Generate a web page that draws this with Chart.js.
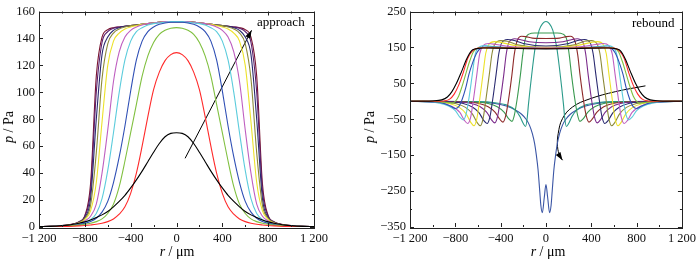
<!DOCTYPE html>
<html>
<head>
<meta charset="utf-8">
<script src="https://cdn.jsdelivr.net/npm/chart.js@4.4.0/dist/chart.umd.min.js"></script>
<style>
  body { margin: 0; background: #fff; }
  #wrap { position: relative; width: 700px; height: 260px; font-family: "Liberation Serif", serif; color: #000; }
  #approachChart { position: absolute; left: 0; top: 0; }
  #reboundChart { position: absolute; left: 350px; top: 0; }
  .lbl { position: absolute; font-size: 13px; line-height: 1; white-space: nowrap; }
  .ax { font-size: 14px; }
  .rot { transform: translate(-50%, -50%) rotate(-90deg); }
  .ctr { transform: translate(-50%, -50%); }
</style>
</head>
<body>
<div id="wrap">
  <canvas id="approachChart" width="340" height="260"></canvas>
  <canvas id="reboundChart" width="350" height="260"></canvas>
  <div class="lbl ax rot" style="left:9px; top:127px;"><i>p</i> / Pa</div>
  <div class="lbl ax ctr" style="left:177px; top:252px;"><i>r</i> / μm</div>
  <div class="lbl ax rot" style="left:370px; top:127px;"><i>p</i> / Pa</div>
  <div class="lbl ax ctr" style="left:548px; top:252px;"><i>r</i> / μm</div>
  <div class="lbl" style="left:257px; top:15px;">approach</div>
  <div class="lbl" style="left:632px; top:16px;">rebound</div>
</div>
<script>
// approach: half profiles p(r) for r >= 0, mirrored to r < 0
const r_grid = [0, 50, 100, 150, 200, 250, 300, 350, 400, 450, 500, 550, 600, 650, 700, 750, 800, 850, 900, 950, 1000, 1100, 1200];

const ap_black   = [70, 69.5, 67, 62, 55.5, 48.5, 41.5, 35, 29, 23.5, 19, 15, 11.5, 9, 7, 5.2, 3.8, 2.8, 2, 1.4, 1, 0.5, 0.3];
const ap_red     = [129.5, 128, 123.5, 115, 102, 82, 60, 40, 25, 15, 9.5, 6, 4, 2.8, 2, 1.5, 1.1, 0.8, 0.6, 0.45, 0.35, 0.2, 0.1];
const ap_green   = [148, 147.5, 146, 143, 137, 127, 112, 91, 70, 49, 30, 17, 10, 6, 4, 2.8, 2, 1.4, 1, 0.7, 0.5, 0.3, 0.15];
const ap_blue    = [152, 152, 151.5, 150.5, 148.5, 145, 138, 124, 101, 75, 52, 33, 19, 11, 6.5, 4, 2.7, 1.8, 1.2, 0.8, 0.6, 0.3, 0.15];
const ap_cyan    = [152.5, 152.5, 152, 151.5, 151, 150, 148, 145, 138, 124, 100, 70, 42, 21, 10, 5.5, 3.3, 2.1, 1.4, 1, 0.7, 0.35, 0.2];
const ap_magenta = [152.5, 152.5, 152.5, 152, 151.5, 151, 150, 148.5, 146, 141, 130, 108, 72, 40, 17, 8, 4.5, 2.7, 1.7, 1.1, 0.8, 0.4, 0.2];
const ap_yellow  = [152.5, 152.5, 152.5, 152, 151.5, 151, 150.5, 149.5, 148.5, 147, 144, 138, 120, 78, 33, 12, 5.5, 3, 1.8, 1.2, 0.8, 0.4, 0.2];
const ap_olive   = [152.5, 152.5, 152.5, 152, 151.5, 151, 150.5, 150, 149.5, 148.5, 147, 144, 136, 110, 55, 16, 6.5, 3.3, 2, 1.3, 0.9, 0.45, 0.25];
const ap_navy    = [152.5, 152.5, 152.5, 152, 151.5, 151, 150.5, 150, 149.5, 149, 148, 146, 141, 128, 80, 21, 7, 3.5, 2, 1.3, 0.9, 0.45, 0.25];
const ap_purple  = [152.5, 152.5, 152.5, 152, 151.5, 151, 150.5, 150, 149.5, 149, 148.5, 147.5, 145, 137, 100, 27, 8, 3.8, 2.2, 1.4, 1, 0.5, 0.3];
const ap_maroon  = [152.5, 152.5, 152.5, 152, 151.5, 151, 150.5, 150, 149.5, 149, 148.5, 148, 146.5, 141, 112, 32, 8.5, 4, 2.3, 1.5, 1, 0.5, 0.3];

const ap_series = [ap_black, ap_red, ap_green, ap_blue, ap_cyan, ap_magenta, ap_yellow, ap_olive, ap_navy, ap_purple, ap_maroon];
const ap_colors = ['#000000', '#ff2a2a', '#80c040', '#2f4fb5', '#5cccdc', '#bf5fc0', '#ece22a', '#8c8a3a', '#2a2a70', '#5a1f6e', '#7a1430'];

// approach arrow (r, p)
const ap_arrow_r = [75, 655];
const ap_arrow_p = [51, 146];

// rebound: each curve has its own r points (r >= 0)
const rb_black_r   = [0, 400, 550, 620, 660, 700, 746, 790, 830, 870, 920, 1000, 1100, 1200];
const rb_black_p   = [146, 148, 148.5, 146, 140, 118, 82, 50, 27, 12, 4, 1, 0.2, 0];
const rb_red_r     = [0, 500, 600, 650, 690, 730, 770, 810, 850, 900, 950, 1200];
const rb_red_p     = [147, 149, 148, 140, 120, 80, 45, 20, 6, 1, 0, 0];
const rb_green_r   = [0, 500, 590, 640, 675, 709, 740, 770, 800, 830, 870, 930, 1000, 1200];
const rb_green_p   = [147, 150, 149, 138, 110, 75, 42, 15, 0, -5, -4, -1.5, -0.3, 0];
const rb_blue_r    = [0, 480, 560, 610, 650, 680, 710, 740, 770, 800, 840, 900, 980, 1200];
const rb_blue_p    = [147, 151, 150, 135, 105, 75, 35, 5, -15, -20, -14, -6, -2, 0];
const rb_cyan_r    = [0, 300, 450, 540, 595, 625, 650, 680, 705, 730, 760, 800, 860, 940, 1050, 1200];
const rb_cyan_p    = [147, 149, 152, 155, 150, 130, 75, 8, -36, -52, -44, -26, -13, -5, -1.5, 0];
const rb_magenta_r = [0, 300, 440, 505, 555, 585, 610, 640, 665, 690, 720, 760, 820, 900, 1000, 1200];
const rb_magenta_p = [148, 152, 158, 161, 155, 132, 75, 5, -45, -62, -53, -31, -16, -6, -2, 0];
const rb_yellow_r  = [0, 250, 400, 455, 505, 532, 556, 585, 610, 635, 665, 705, 765, 845, 950, 1200];
const rb_yellow_p  = [149, 154, 164, 166, 158, 133, 75, 5, -48, -68, -58, -35, -17, -7, -2, 0];
const rb_olive_r   = [0, 250, 340, 400, 450, 476, 500, 530, 555, 580, 610, 650, 710, 790, 900, 1200];
const rb_olive_p   = [150, 157, 167, 169, 160, 133, 75, 5, -48, -68, -58, -35, -17, -7, -2, 0];
const rb_navy_r    = [0, 200, 290, 340, 390, 416, 440, 470, 495, 520, 550, 590, 650, 730, 840, 1200];
const rb_navy_p    = [154, 161, 170, 172, 163, 133, 75, 5, -44, -62, -53, -32, -16, -6, -2, 0];
const rb_purple_r  = [0, 150, 230, 275, 325, 350, 372, 402, 427, 452, 482, 522, 580, 660, 780, 1200];
const rb_purple_p  = [163, 166, 172, 174, 165, 133, 75, 5, -42, -60, -51, -31, -15, -6, -2, 0];
const rb_wine_r    = [0, 120, 180, 215, 255, 280, 300, 330, 355, 380, 410, 450, 510, 590, 710, 1200];
const rb_wine_p    = [175, 176, 180, 181, 168, 130, 75, 5, -40, -58, -49, -30, -15, -6, -2, 0];
const rb_dgreen_r  = [0, 100, 150, 185, 205, 225, 255, 280, 300, 330, 370, 430, 510, 640, 1200];
const rb_dgreen_p  = [190, 190, 187, 170, 130, 75, 5, -40, -56, -48, -30, -15, -6, -2, 0];
const rb_teal_r    = [0, 30, 60, 95, 120, 140, 155, 165, 180, 200, 230, 280, 350, 450, 600, 1200];
const rb_teal_p    = [222, 216, 198, 150, 90, 35, -10, -45, -70, -62, -42, -22, -10, -4, -1, 0];
const rb_last_r    = [0, 15, 32, 45, 55, 70, 85, 100, 120, 145, 175, 215, 270, 350, 450, 560, 700, 1200];
const rb_last_p    = [-232, -268, -310, -290, -250, -190, -150, -118, -90, -67, -50, -36, -24, -13, -6, -2.5, -0.8, 0];

const rb_series = [
  [rb_black_r, rb_black_p], [rb_red_r, rb_red_p], [rb_green_r, rb_green_p], [rb_blue_r, rb_blue_p],
  [rb_cyan_r, rb_cyan_p], [rb_magenta_r, rb_magenta_p], [rb_yellow_r, rb_yellow_p], [rb_olive_r, rb_olive_p],
  [rb_navy_r, rb_navy_p], [rb_purple_r, rb_purple_p], [rb_wine_r, rb_wine_p], [rb_dgreen_r, rb_dgreen_p],
  [rb_teal_r, rb_teal_p], [rb_last_r, rb_last_p]
];
const rb_colors = ['#000000', '#ff2a2a', '#80c040', '#2f4fb5', '#5cccdc', '#bf5fc0', '#ece22a', '#8c8a3a',
                   '#2a2a70', '#7a2a8a', '#8e2a2a', '#3a9a50', '#2a9a8a', '#3a55a5'];

// rebound arrow (r, p), curved
const rb_arrow_r = [878, 615, 380, 234, 146, 108, 102, 123, 146];
const rb_arrow_p = [43, 27, 6, -16, -48, -90, -126, -153, -164];

function mirror(rs, ps) {
  const pts = [];
  for (let i = rs.length - 1; i > 0; i--) pts.push({x: -rs[i], y: ps[i]});
  for (let i = 0; i < rs.length; i++) pts.push({x: rs[i], y: ps[i]});
  return pts;
}

function fmt(v) {
  const a = Math.abs(v);
  let s = a >= 1000 ? Math.floor(a / 1000) + ' ' + String(a % 1000).padStart(3, '0') : String(a);
  return (v < 0 ? '\u2212' : '') + s;
}

// frame, inward ticks on all four sides, arrowheads
const frameTicks = {
  id: 'frameTicks',
  afterDatasetsDraw(chart, args, opts) {
    const {ctx, chartArea: a, scales} = chart;
    ctx.save();
    ctx.strokeStyle = '#222';
    ctx.lineWidth = 1;
    const seg = (x1, y1, x2, y2) => { ctx.beginPath(); ctx.moveTo(x1, y1); ctx.lineTo(x2, y2); ctx.stroke(); };
    scales.x.ticks.forEach(t => {
      const px = Math.round(scales.x.getPixelForValue(t.value)) + 0.5;
      const len = t.value % 400 === 0 ? 4 : 2;
      seg(px, a.bottom, px, a.bottom - len);
      seg(px, a.top, px, a.top + len);
    });
    scales.y.ticks.forEach(t => {
      const py = Math.round(scales.y.getPixelForValue(t.value)) + 0.5;
      const len = (t.value + opts.yOff) % opts.yStep === 0 ? 4 : 2;
      seg(a.left, py, a.left + len, py);
      seg(a.right, py, a.right - len, py);
    });
    ctx.strokeRect(Math.round(a.left) + 0.5, Math.round(a.top) + 0.5, Math.round(a.right - a.left), Math.round(a.bottom - a.top));

    chart.data.datasets.forEach((ds, i) => {
      if (!ds.arrow) return;
      const pts = chart.getDatasetMeta(i).data;
      const end = pts[pts.length - 1];
      const prev = pts[pts.length - 2];
      const fx = end.cp1x !== undefined && end.cp1x !== end.x ? end.cp1x : prev.x;
      const fy = end.cp1y !== undefined && end.cp1y !== end.y ? end.cp1y : prev.y;
      const ang = Math.atan2(end.y - fy, end.x - fx);
      ctx.fillStyle = '#000';
      ctx.beginPath();
      ctx.moveTo(end.x, end.y);
      ctx.lineTo(end.x - 8 * Math.cos(ang) + 2.8 * Math.sin(ang), end.y - 8 * Math.sin(ang) - 2.8 * Math.cos(ang));
      ctx.lineTo(end.x - 8 * Math.cos(ang) - 2.8 * Math.sin(ang), end.y - 8 * Math.sin(ang) + 2.8 * Math.cos(ang));
      ctx.closePath();
      ctx.fill();
    });
    ctx.restore();
  }
};

function makeChart(id, datasets, yMin, yMax, yStep, yOff, yWidth, pad) {
  const tickFont = {family: 'Liberation Serif', size: 12.5};
  return new Chart(document.getElementById(id), {
    type: 'line',
    data: {datasets: datasets},
    options: {
      responsive: false,
      animation: false,
      layout: {padding: pad},
      plugins: {
        legend: {display: false},
        tooltip: {enabled: false},
        frameTicks: {yStep: yStep, yOff: yOff}
      },
      scales: {
        x: {
          type: 'linear', min: -1200, max: 1200,
          grid: {display: false, drawTicks: false},
          border: {display: false},
          ticks: {stepSize: 200, autoSkip: false, maxRotation: 0, padding: 4, color: '#111', font: tickFont,
                  callback: v => v % 400 === 0 ? fmt(v) : ''},
          afterFit: s => { s.height = 33; }
        },
        y: {
          type: 'linear', min: yMin, max: yMax,
          grid: {display: false, drawTicks: false},
          border: {display: false},
          ticks: {stepSize: yStep / 2, autoSkip: false, padding: 4, color: '#111', font: tickFont,
                  callback: v => (v + yOff) % yStep === 0 ? fmt(v) : ''},
          afterFit: s => { s.width = yWidth; }
        }
      }
    },
    plugins: [frameTicks]
  });
}

const ap_datasets = ap_series.map((p, i) => ({
  data: mirror(r_grid, p),
  borderColor: ap_colors[i], borderWidth: 1.1, pointRadius: 0,
  cubicInterpolationMode: 'monotone', fill: false
}));
ap_datasets.push({
  data: ap_arrow_r.map((r, i) => ({x: r, y: ap_arrow_p[i]})),
  borderColor: '#000', borderWidth: 1, pointRadius: 0, fill: false, arrow: true
});

const rb_datasets = rb_series.map((s, i) => ({
  data: mirror(s[0], s[1]),
  borderColor: rb_colors[i], borderWidth: 1.1, pointRadius: 0,
  cubicInterpolationMode: 'monotone', fill: false
}));
rb_datasets.push({
  data: rb_arrow_r.map((r, i) => ({x: r, y: rb_arrow_p[i]})),
  borderColor: '#000', borderWidth: 1, pointRadius: 0, tension: 0.4, fill: false, arrow: true
});

makeChart('approachChart', ap_datasets, 0, 160, 20, 0, 39, {top: 6, right: 26, left: 0, bottom: 0});
makeChart('reboundChart', rb_datasets, -350, 250, 100, 350, 60, {top: 7, right: 17, left: 0, bottom: 0});
</script>
</body>
</html>
